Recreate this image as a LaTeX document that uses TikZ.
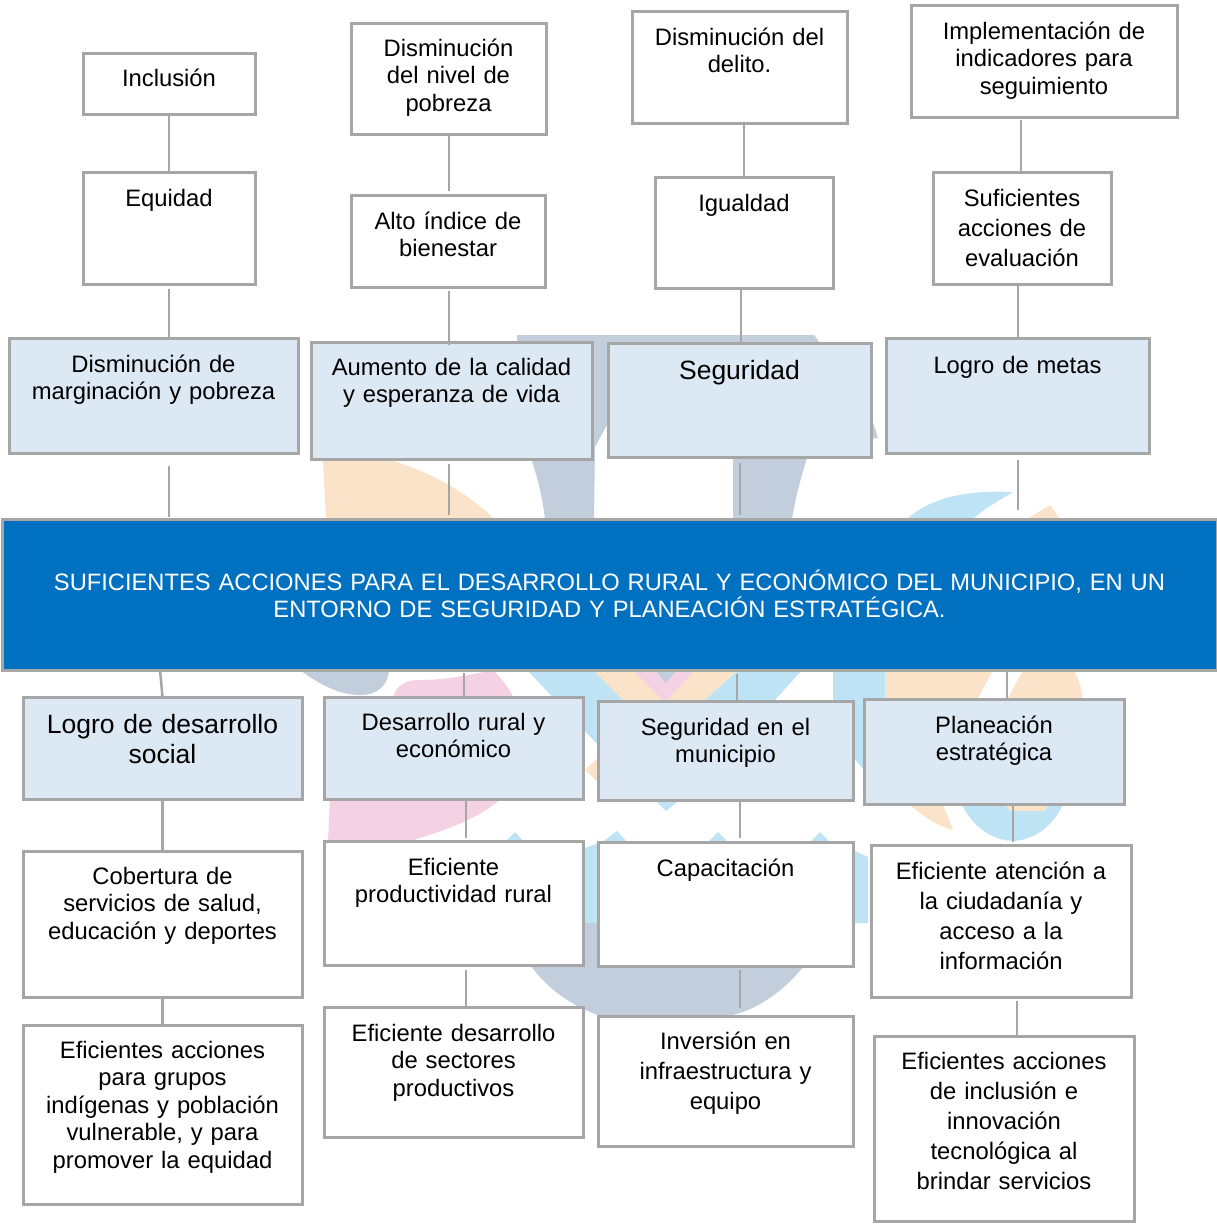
\documentclass[tikz,border=0pt]{standalone}
\usepackage{fontspec}
\setmainfont{Liberation Sans}
\usetikzlibrary{calc}
\definecolor{linegray}{HTML}{A6A6A6}
\definecolor{lightfill}{HTML}{DDE8F5}
\definecolor{bannerblue}{HTML}{0070C0}
\definecolor{wmgray}{HTML}{C3CEDD}
\definecolor{wmorange}{HTML}{FBE3C9}
\definecolor{wmpink}{HTML}{F4D2E4}
\definecolor{wmblue}{HTML}{BDE3F4}
\tikzset{
	whitebox/.style={draw=linegray,line width=3pt,fill=white,inner sep=0pt,outer sep=0pt,anchor=north west,align=center,font=\fontsize{23.8}{27.5}\selectfont},
	paleblue/.style={whitebox,fill=lightfill},
	dims/.style n args={3}{text width=#1pt,text height=#2pt,text depth=#3pt},
	loose/.style={font=\fontsize{23.8}{30}\selectfont},
	large/.style={font=\fontsize{26.5}{30.5}\selectfont},
	link/.style={draw=linegray,line width=2.5pt},
}
\begin{document}
\begin{tikzpicture}[x=1pt,y=-1pt]
	\useasboundingbox (0,0) rectangle (1217,1226);

	%watermark
	\fill[wmgray] (517,335)--(814,335) .. controls (840,370) and (868,400) .. (878,438)--(860,440)--(808,455) .. controls (800,480) and (795,500) .. (792,519)--(733,519)--(733,450)--(640,400)--(608,423)--(595,447)--(594,519)--(545,519) .. controls (542,495) and (537,475) .. (531,459)--(520,400)--cycle;
	\fill[wmorange] (322,440)--(387,459) .. controls (425,470) and (465,490) .. (494,519)--(326,519)--cycle;
	\fill[wmblue] (907,519) .. controls (930,498) and (965,490) .. (1013,492) .. controls (1000,500) and (985,508) .. (973,519)--cycle;
	\fill[wmorange] (1027,519)--(1050,505)--(1060,519)--cycle;
	\fill[wmgray] (300,670) .. controls (320,685) and (340,695) .. (360,695) .. controls (378,695) and (388,685) .. (389,670)--cycle;
	\fill[wmpink] (328,841)--(330,797)--(393,697) .. controls (397,685) and (405,680) .. (420,680) .. controls (445,680) and (470,675) .. (493,670) .. controls (503,680) and (510,690) .. (513,697)--(505,795) .. controls (490,810) and (465,825) .. (410,841)--cycle;
	\fill[wmblue] (527,670)--(593,670)--(640,700)--(640,740)--(598,745)--cycle;
	\fill[wmorange] (593,670)--(737,670)--(705,700)--(623,700)--cycle;
	\fill[wmpink] (633,670)--(695,670)--(665,702)--cycle;
	\fill[wmgray] (655,670)--(677,670)--(666,683)--cycle;
	\fill[wmorange] (585,770)--(600,756)--(600,784)--cycle;
	\fill[wmblue] (738,670)--(802,670)--(775,700)--(705,700)--cycle;
	\fill[wmblue] (657,802)--(677,802)--(666,811)--cycle;
	\fill[wmblue] (833,670)--(885,670)--(885,720)--(864,770)--(853,757) .. controls (840,730) and (833,710) .. (833,693)--cycle;
	\fill[wmorange] (885,670)--(993,670)--(977,700)--(1007,700)--(1023,670)--(1073,670) .. controls (1080,680) and (1082,690) .. (1082,700)--(885,720)--cycle;
	\fill[wmblue] (960,800) .. controls (970,825) and (990,840) .. (1013,841) .. controls (1035,840) and (1055,825) .. (1065,800)--cycle;
	\fill[wmorange] (905,800) .. controls (920,815) and (935,825) .. (953,830) .. controls (950,820) and (945,810) .. (940,800)--cycle;
	\fill[wmorange] (1000,800)--(1050,800)--(1045,811)--(1010,811)--cycle;
	\fill[wmblue] (502,845)--(515,832)--(530,848)--(585,848)--(604,841)--(617,831)--(630,845)--(705,845)--(718,832)--(731,845)--(807,845)--(820,832)--(833,845)--(853,850)--(868,857)--(868,923)--(525,923)--cycle;
	\fill[wmgray] (525,923)--(806,923)--(803,967) .. controls (785,990) and (755,1012) .. (727,1016)--(600,1016) .. controls (565,1003) and (545,985) .. (530,965)--cycle;

	%upper rows
	\node[whitebox,dims={172}{33}{28}] (inclusion) at (83,53) {Inclusión};
	\node[whitebox,dims={195}{33}{78}] (nivel) at (351,23) {Disminución\\del nivel de\\pobreza};
	\node[whitebox,dims={215}{34}{78}] (delito) at (632,11) {Disminución del\\delito.};
	\node[whitebox,dims={266}{34}{78}] (indicadores) at (911,5) {Implementación de\\indicadores para\\seguimiento};
	\node[whitebox,dims={172}{34}{78}] (equidad) at (83,172) {Equidad};
	\node[whitebox,dims={194}{34}{58}] (bienestar) at (351,195) {Alto índice de\\bienestar};
	\node[whitebox,dims={178}{34}{77}] (igualdad) at (655,177) {Igualdad};
	\node[whitebox,loose,dims={178}{34}{78}] (evaluacion) at (933,172) {Suficientes\\acciones de\\evaluación};

	%blue boxes above
	\node[paleblue,dims={289}{34}{81}] (marginacion) at (9,338) {Disminución de\\marginación y pobreza};
	\node[paleblue,dims={281}{33}{84}] (calidad) at (311,342) {Aumento de la calidad\\y esperanza de vida};
	\node[paleblue,large,dims={263}{36}{78}] (seguridad) at (608,343) {Seguridad};
	\node[paleblue,dims={263}{35}{80}] (metas) at (886,338) {Logro de metas};

	%banner
	\node[whitebox,fill=bannerblue,text=white,font=\fontsize{23.7}{27.5}\selectfont,dims={1215}{71}{80}] (banner) at (2,519) {SUFICIENTES ACCIONES PARA EL DESARROLLO RURAL Y ECONÓMICO DEL MUNICIPIO, EN UN\\ENTORNO DE SEGURIDAD Y PLANEACIÓN ESTRATÉGICA.};

	%blue boxes below
	\node[paleblue,large,dims={279}{36}{66}] (social) at (23,697) {Logro de desarrollo\\social};
	\node[paleblue,dims={259}{33}{69}] (rural) at (324,697) {Desarrollo rural y\\económico};
	\node[paleblue,dims={255}{34}{65}] (municipio) at (598,701) {Seguridad en el\\municipio};
	\node[paleblue,dims={260}{34}{71}] (planeacion) at (864,699) {Planeación\\estratégica};

	%lower rows
	\node[whitebox,dims={279}{33}{113}] (cobertura) at (23,851) {Cobertura de\\servicios de salud,\\educación y deportes};
	\node[whitebox,dims={259}{34}{90}] (productividad) at (324,841) {Eficiente\\productividad rural};
	\node[whitebox,dims={255}{34}{90}] (capacitacion) at (598,842) {Capacitación};
	\node[whitebox,loose,dims={260}{34}{118}] (atencion) at (871,845) {Eficiente atención a\\la ciudadanía y\\acceso a la\\información};
	\node[whitebox,dims={279}{33}{146}] (grupos) at (23,1025) {Eficientes acciones\\para grupos\\indígenas y población\\vulnerable, y para\\promover la equidad};
	\node[whitebox,dims={259}{34}{96}] (sectores) at (324,1007) {Eficiente desarrollo\\de sectores\\productivos};
	\node[whitebox,loose,dims={255}{33}{97}] (inversion) at (598,1016) {Inversión en\\infraestructura y\\equipo};
	\node[whitebox,loose,dims={260}{33}{152}] (innovacion) at (874,1036) {Eficientes acciones\\de inclusión e\\innovación\\tecnológica al\\brindar servicios};

	%connectors above
	\draw[link] (inclusion.south)--(equidad.north);
	\draw[link,shorten >=4pt] ([xshift=.5pt]nivel.south)--([xshift=1pt]bienestar.north);
	\draw[link] ([xshift=4.5pt]delito.south)--(igualdad.north);
	\draw[link,shorten <=3pt] ([xshift=-23pt]indicadores.south)--([xshift=-1pt]evaluacion.north);
	\draw[link,shorten <=5pt] (equidad.south)--([xshift=15.5pt]marginacion.north);
	\draw[link,shorten <=4pt,shorten >=-3pt] ([xshift=1pt]bienestar.south)--([xshift=-2.5pt]calidad.north);
	\draw[link,shorten <=2pt,shorten >=-2pt] ([xshift=-3pt]igualdad.south)--([xshift=1.5pt]seguridad.north);
	\draw[link,shorten <=1pt] ([xshift=-4pt]evaluacion.south)--([xshift=.5pt]metas.north);
	\draw[link,shorten <=13pt,shorten >=2pt] ([xshift=15.5pt]marginacion.south)--([xshift=-440.5pt]banner.north);
	\draw[link,shorten <=5pt,shorten >=4pt] ([xshift=-2.5pt]calidad.south)--([xshift=-160.5pt]banner.north);
	\draw[link,shorten <=6pt,shorten >=4pt] ([xshift=.5pt]seguridad.south)--([xshift=130.5pt]banner.north);
	\draw[link,shorten <=7pt,shorten >=9pt] ([xshift=.5pt]metas.south)--([xshift=408.5pt]banner.north);

	%connectors below
	\draw[link] ([xshift=-449.5pt]banner.south)--(social.north);
	\draw[link,shorten <=3pt] ([xshift=-145.5pt]banner.south)--([xshift=10.5pt]rural.north);
	\draw[link,shorten <=4pt] ([xshift=127.5pt]banner.south)--([xshift=11.5pt]municipio.north);
	\draw[link,shorten <=2pt] ([xshift=397.5pt]banner.south)--([xshift=13pt]planeacion.north);
	\draw[link] (social.south)--(cobertura.north);
	\draw[link,shorten >=3pt] ([xshift=12.5pt]rural.south)--([xshift=12.5pt]productividad.north);
	\draw[link,shorten >=4pt] ([xshift=14.5pt]municipio.south)--([xshift=14.5pt]capacitacion.north);
	\draw[link,shorten >=3pt] ([xshift=19pt]planeacion.south)--([xshift=12pt]atencion.north);
	\draw[link] (cobertura.south)--(grupos.north);
	\draw[link,shorten <=5pt] ([xshift=12.5pt]productividad.south)--([xshift=12.5pt]sectores.north);
	\draw[link,shorten <=4pt,shorten >=8pt] ([xshift=14.5pt]capacitacion.south)--([xshift=14.5pt]inversion.north);
	\draw[link,shorten <=4pt] ([xshift=16pt]atencion.south)--([xshift=13pt]innovacion.north);
\end{tikzpicture}
\end{document}
